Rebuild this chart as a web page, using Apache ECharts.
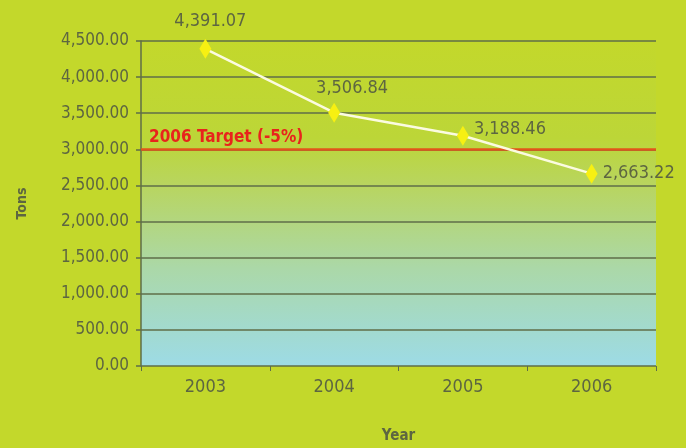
<!DOCTYPE html>
<html>
<head>
<meta charset="utf-8">
<script src="https://cdn.jsdelivr.net/npm/echarts@6/dist/echarts.min.js"></script>
<style>
html,body{margin:0;padding:0;background:#c3d82b;}
#c{width:686px;height:448px;}
</style>
</head>
<body>
<div id="c"></div>
<script>
var years = ['2003', '2004', '2005', '2006'];
var tons = [4391.07, 3506.84, 3188.46, 2663.22];
var targetValue = 3000;
var targetLabel = '2006 Target (-5%)';
var yTicks = { min: 0, max: 4500, interval: 500 };

var labelPlacement = ['top', 'top', 'right', 'right'];
var labelShift = [[5, -4], [18, 0], [0, -6], [0, 0]];
var fontFam = '"DejaVu Sans Condensed", "DejaVu Sans", sans-serif';
var textColor = '#5d6641';
var gridColor = '#5f6e48';

function fmt(v) {
  return v.toLocaleString('en-US', { minimumFractionDigits: 2, maximumFractionDigits: 2 });
}

var chart = echarts.init(document.getElementById('c'));
chart.setOption({
  backgroundColor: '#c3d82b',
  animation: false,
  grid: {
    left: 141, right: 30, top: 41, bottom: 82,
    outerBoundsMode: 'none',
    containLabel: false,
    show: true, borderWidth: 0,
    backgroundColor: new echarts.graphic.LinearGradient(0, 0, 0, 1, [
      { offset: 0, color: '#c3d82b' },
      { offset: 0.3, color: '#bcd638' },
      { offset: 0.45, color: '#b8d561' },
      { offset: 0.7, color: '#abd8a8' },
      { offset: 1, color: '#9ddbe6' }
    ])
  },
  xAxis: {
    type: 'category',
    data: years,
    boundaryGap: true,
    name: 'Year',
    nameLocation: 'middle',
    nameGap: 63,
    nameTextStyle: { color: textColor, fontFamily: fontFam, fontSize: 15, fontWeight: 'bold' },
    axisLine: { show: false },
    axisTick: { show: true, length: 5, lineStyle: { color: gridColor, width: 1 } },
    axisLabel: { color: textColor, fontFamily: fontFam, fontSize: 18, margin: 12 },
    splitLine: { show: false }
  },
  yAxis: {
    type: 'value',
    min: yTicks.min, max: yTicks.max, interval: yTicks.interval,
    name: 'Tons',
    nameLocation: 'middle',
    nameRotate: 90,
    nameGap: 112,
    nameTextStyle: { color: textColor, fontFamily: fontFam, fontSize: 14, fontWeight: 'bold' },
    axisLine: { show: true, lineStyle: { color: gridColor, width: 1.5 } },
    axisTick: { show: true, length: 5, lineStyle: { color: gridColor, width: 1.5 } },
    axisLabel: { color: textColor, fontFamily: fontFam, fontSize: 17, margin: 12, formatter: fmt },
    splitLine: { show: true, lineStyle: { color: gridColor, width: 1.5 } }
  },
  series: [{
    type: 'line',
    data: tons.map(function (v, i) {
      return { value: v, label: { position: labelPlacement[i], offset: labelShift[i] } };
    }),
    lineStyle: { color: '#fbfbe0', width: 2.5 },
    symbol: 'diamond',
    symbolSize: [12, 20],
    itemStyle: { color: '#f7f012' },
    label: {
      show: true,
      distance: 5,
      color: textColor,
      fontFamily: fontFam,
      fontSize: 18,
      formatter: function (p) { return fmt(p.value); }
    },
    markLine: {
      silent: true,
      symbol: 'none',
      lineStyle: { color: '#e2541a', width: 2.5, type: 'solid' },
      label: {
        show: true,
        position: 'insideStartTop',
        formatter: targetLabel,
        color: '#e8231c',
        fontFamily: fontFam,
        fontSize: 17,
        fontWeight: 'bold',
        distance: [8, 3]
      },
      data: [{ yAxis: targetValue }]
    },
    z: 5
  }]
});
</script>
</body>
</html>
